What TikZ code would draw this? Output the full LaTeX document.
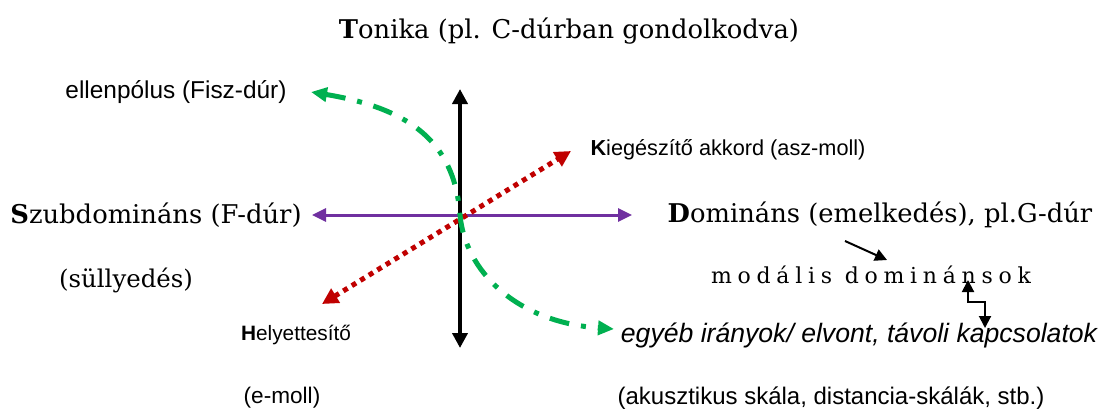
\documentclass[tikz,border=0pt]{standalone}
\usepackage{fontspec}
\setmainfont{DejaVu Serif}
\newfontfamily\arialfont{Liberation Sans}
\newfontfamily\spacedfont[LetterSpace=26]{DejaVu Serif}
\usepackage{xcolor}
\usepackage{tikz}
\usetikzlibrary{positioning, arrows.meta, calc}

\definecolor{tgreen}{RGB}{0,176,80}
\definecolor{tpurple}{RGB}{112,48,160}
\definecolor{tred}{RGB}{192,0,0}

\begin{document}
\begin{tikzpicture}[x=0.5pt, y=-0.5pt,
    serif/.style={inner sep=0pt, font=\fontsize{12.9}{15}\selectfont},
    sans/.style={inner sep=0pt, font=\arialfont\fontsize{12.2}{14}\selectfont}]
    \useasboundingbox (0,0) rectangle (1101,412);

    % Labels
    \node[serif] (T) at (569,31) {\textbf{T}onika (pl. C-dúrban gondolkodva)};
    \node[sans] (ell) at (176,92) {ellenpólus (Fisz-dúr)};
    \node[sans, font=\arialfont\fontsize{10.85}{13}\selectfont] (K) at (728,150) {\textbf{K}iegészítő akkord (asz-moll)};
    \node[serif] (S) at (156,215) {\textbf{S}zubdomináns (F-dúr)};
    \node[serif, font=\fontsize{12.2}{14}\selectfont] (sull) at (126,280) {(süllyedés)};
    \node[sans, font=\arialfont\fontsize{10.4}{13}\selectfont] (H) at (296,335) {\textbf{H}elyettesítő};
    \node[sans, font=\arialfont\fontsize{11.3}{13}\selectfont, below left=31.5pt and 7pt of H.center, anchor=center] (emoll) {(e-moll)};
    \node[serif] (D) at (880,215) {\textbf{D}omináns (emelkedés), pl.G-dúr};
    \node[inner sep=0pt, font=\spacedfont\fontsize{11}{13}\selectfont] (mod) at (871,275) {modális dominánsok};
    \node[sans, font=\arialfont\itshape\fontsize{13.3}{15}\selectfont] (egy) at (859,335) {egyéb irányok/ elvont, távoli kapcsolatok};
    \node[sans, font=\arialfont\fontsize{12}{14}\selectfont] (aku) at (831,398) {(akusztikus skála, distancia-skálák, stb.)};

    % Axis end points
    \coordinate (O) at (460,215);
    \coordinate (top) at (460,89);
    \coordinate (bot) at (460,348);
    \coordinate (left) at (312,215);
    \coordinate (right) at (632,215);
    \coordinate (ne) at (571,151);
    \coordinate (sw) at (322,304);
    \coordinate (gnw) at (311,92);
    \coordinate (gse) at (614,329);

    % Arrows
    \draw[tpurple, line width=1.5pt, {Triangle[length=7pt, width=6.5pt]}-{Triangle[length=7pt, width=6.5pt]}] (left) -- (right);
    \draw[black, line width=2pt, {Triangle[length=7.5pt, width=7.5pt]}-{Triangle[length=7.5pt, width=7.5pt]}] (top) -- (bot);
    \draw[tred, line width=2.5pt, dash pattern=on 2.5pt off 2.5pt, {Triangle[length=8pt, width=8pt]}-{Triangle[length=8pt, width=8pt]}] (sw) -- (ne);
    \draw[tgreen, line width=2.5pt, dash pattern=on 10pt off 6pt on 2.5pt off 6pt, {Triangle[length=8pt, width=7pt]}-{Triangle[length=8pt, width=7pt]}]
        (gnw) .. controls (420,110) and (455,150) .. (O) .. controls (465,270) and (515,322) .. (gse);

    % Modal dominants
    \coordinate (da) at (845,241);
    \coordinate (db) at (887,260);
    \coordinate (modin) at (968,280);
    \coordinate (egyin) at (985,328);
    \draw[line width=1pt, -{Triangle[length=6pt, width=6pt]}] (da) -- (db);
    \draw[line width=1pt, {Triangle[length=6pt, width=6pt]}-{Triangle[length=6pt, width=6pt]}] (modin) -- ++(0,22) -| (egyin);
\end{tikzpicture}
\end{document}
